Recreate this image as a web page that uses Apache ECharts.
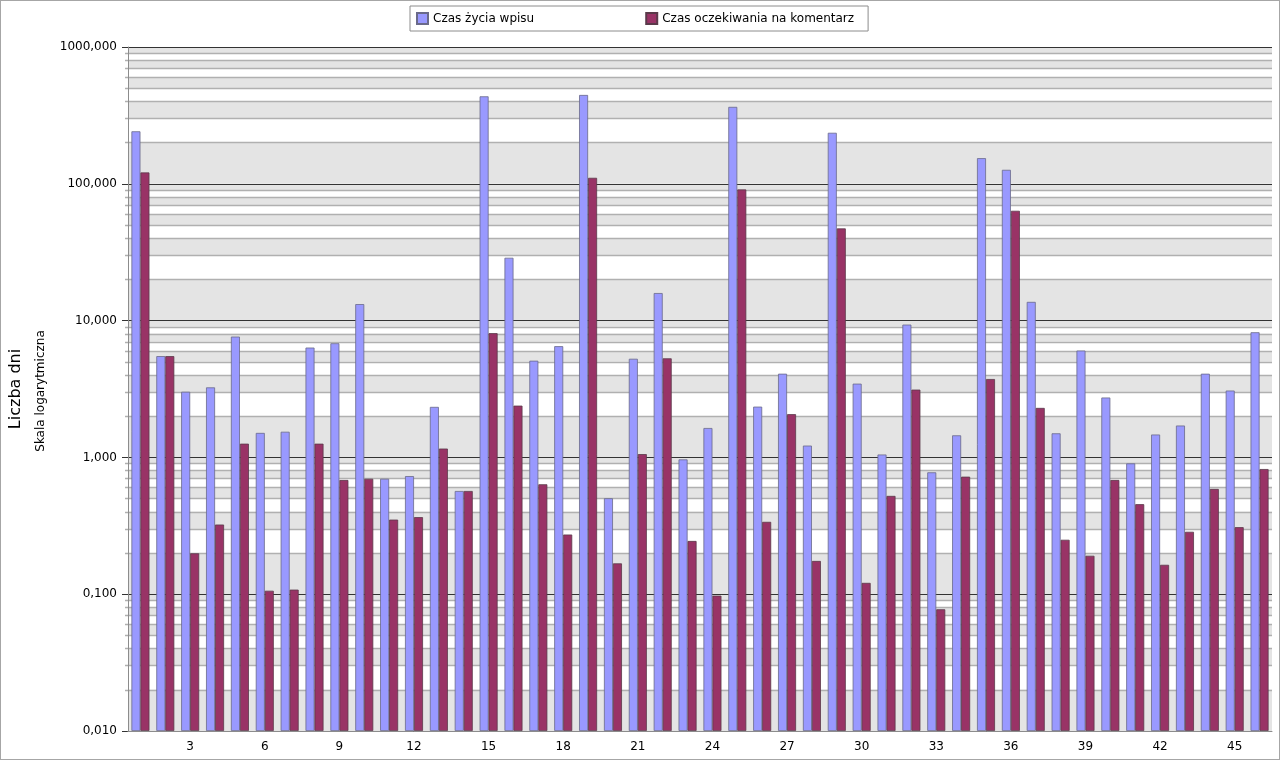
<!DOCTYPE html>
<html>
<head>
<meta charset="utf-8">
<script src="https://cdn.jsdelivr.net/npm/echarts@6/dist/echarts.min.js"></script>
<style>
html,body{margin:0;padding:0;background:#fff;}
#chart{width:1280px;height:760px;}
#frame{position:absolute;left:0;top:0;width:1280px;height:760px;box-sizing:border-box;border:1px solid #a6a6a6;pointer-events:none;}
</style>
</head>
<body>
<div id="chart"></div>
<div id="frame"></div>
<script>
var categories = ['1','2','3','4','5','6','7','8','9','10','11','12','13','14','15','16','17','18','19','20','21','22','23',
    '24','25','26','27','28','29','30','31','32','33','34','35','36','37','38','39','40','41','42','43','44','45','46'];
// Czas życia wpisu (dni)
var lifeTime = [242, 5.5, 3.02, 3.25, 7.64, 1.51, 1.54, 6.35, 6.83, 13.2, 0.698, 0.73, 2.34, 0.568, 436, 28.8, 5.09, 6.5,
    446, 0.503, 5.26, 15.9, 0.967, 1.64, 365, 2.35, 4.09, 1.22, 236, 3.46, 1.05, 9.35, 0.778, 1.45, 154, 126.5, 13.7,
    1.5, 6.04, 2.74, 0.904, 1.47, 1.71, 4.09, 3.08, 8.22];
// Czas oczekiwania na komentarz (dni)
var waitTime = [121, 5.5, 0.199, 0.323, 1.26, 0.106, 0.108, 1.26, 0.684, 0.698, 0.351, 0.366, 1.16, 0.568, 8.09, 2.39,
    0.636, 0.273, 110.6, 0.168, 1.057, 5.3, 0.245, 0.0976, 90.9, 0.338, 2.07, 0.175, 47.2, 0.121, 0.523, 3.13, 0.0776,
    0.723, 3.74, 63.5, 2.3, 0.25, 0.191, 0.684, 0.455, 0.164, 0.286, 0.588, 0.309, 0.822];

var yMin = 0.01, yMax = 1000;

// tło: szare pasy i linie pomocnicze skali logarytmicznej
var bands = [], lines = [];
for (var k = -2; k <= 2; k++) {
    var p = Math.pow(10, k);
    for (var m = 1; m <= 9; m += 2) {
        bands.push([{yAxis: Number((m * p).toPrecision(3))}, {yAxis: Number(((m + 1) * p).toPrecision(3))}]);
    }
    for (var m2 = 2; m2 <= 9; m2++) {
        var v = Number((m2 * p).toPrecision(3));
        lines.push([{yAxis: v, x: 125, lineStyle: {color: '#b0b0b0', width: 1.4, type: 'solid'}}, {yAxis: v, x: 1272}]);
    }
}
for (var j = -2; j <= 3; j++) {
    var mv = Number(Math.pow(10, j).toPrecision(3));
    lines.push([{yAxis: mv, x: 122, lineStyle: {color: '#333', width: 1.2, type: 'solid'}}, {yAxis: mv, x: 1272}]);
}

var chart = echarts.init(document.getElementById('chart'));
chart.setOption({
    animation: false,
    textStyle: {fontFamily: 'DejaVu Sans'},
    legend: {
        left: 410, top: 6,
        padding: [6, 14, 6, 6],
        itemGap: 111,
        itemWidth: 11, itemHeight: 11,
        icon: 'rect',
        borderColor: '#8c8c8c', borderWidth: 1,
        textStyle: {fontSize: 12, color: '#000', fontFamily: 'DejaVu Sans'},
        data: ['Czas życia wpisu', 'Czas oczekiwania na komentarz']
    },
    grid: {left: 128, right: 8, top: 47, bottom: 29, containLabel: false},
    graphic: [
        {type: 'text', x: 16, y: 389, rotation: Math.PI / 2,
            style: {text: 'Liczba dni', font: '16px DejaVu Sans', fill: '#000', textAlign: 'center', textVerticalAlign: 'middle'}},
        {type: 'text', x: 41, y: 391, rotation: Math.PI / 2,
            style: {text: 'Skala logarytmiczna', font: '12px DejaVu Sans', fill: '#000', textAlign: 'center', textVerticalAlign: 'middle'}}
    ],
    xAxis: {
        type: 'category',
        data: categories,
        z: 4,
        axisLine: {lineStyle: {color: '#8c8c8c', width: 1}},
        axisTick: {length: 5, lineStyle: {color: '#8c8c8c'}, interval: function (i) { return i % 3 === 0; }},
        axisLabel: {color: '#000', fontSize: 12, margin: 10, interval: function (i) { return (i + 1) % 3 === 0; }},
        splitLine: {show: false}
    },
    yAxis: {
        type: 'log',
        logBase: 10,
        min: yMin, max: yMax,
        startValue: yMin,
        z: 4,
        axisLine: {show: true, lineStyle: {color: '#8c8c8c', width: 1}},
        axisTick: {show: false},
        axisLabel: {color: '#000', fontSize: 12, margin: 11, formatter: function (v) { return v.toFixed(3).replace('.', ','); }},
        splitLine: {show: false}
    },
    series: [
        {
            name: 'Czas życia wpisu', type: 'bar', data: lifeTime,
            barWidth: 9, barGap: '0%', z: 3, clip: false,
            itemStyle: {color: '#9999ff', borderColor: '#6a6a8a', borderWidth: 0.8},
            markArea: {silent: true, z: 1, itemStyle: {color: '#e4e4e4'}, data: bands},
            markLine: {silent: true, z: 2, symbol: 'none', label: {show: false}, data: lines}
        },
        {
            name: 'Czas oczekiwania na komentarz', type: 'bar', data: waitTime,
            barWidth: 9, barGap: '0%', z: 3,
            itemStyle: {color: '#993366', borderColor: '#5a3a4a', borderWidth: 0.8}
        }
    ]
});
</script>
</body>
</html>
